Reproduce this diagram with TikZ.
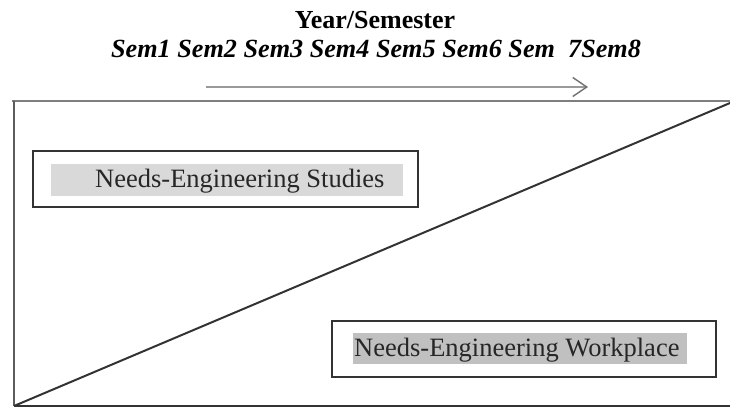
\documentclass[tikz,border=0pt]{standalone}
\usepackage{fontspec}
\setmainfont{Liberation Serif}
\usetikzlibrary{arrows.meta}
\definecolor{frameGray}{HTML}{7F7F7F}
\definecolor{darkLine}{HTML}{333333}
\definecolor{arrowGray}{HTML}{9A9A9A}
\definecolor{hlLight}{HTML}{D9D9D9}
\definecolor{hlDark}{HTML}{C0C0C0}
\tikzset{
  framebox/.style={draw=darkLine, line width=2pt, minimum width=#1, minimum height=56pt, inner sep=0pt},
  boxlabel/.style={font=\fontsize{26.5}{28}\selectfont, text=black!85, inner sep=0pt, anchor=west},
  frameline/.style={line width=2.4pt}
}
\begin{document}
\begin{tikzpicture}[x=1pt,y=1pt]
\useasboundingbox (0,0) rectangle (730,409);
% titles
\node[font=\bfseries\fontsize{26}{28}\selectfont, inner sep=0pt] (title) at (375,389) {Year/Semester};
\node[font=\bfseries\itshape\fontsize{26.2}{28}\selectfont, inner sep=0pt] (sems) at (376,360) {Sem1 Sem2 Sem3 Sem4 Sem5 Sem6 Sem\ \ 7Sem8};
% arrow
\coordinate (arrS) at (206,322);
\coordinate (arrE) at (588,322);
\draw[arrowGray, line width=2.2pt, -{Straight Barb[length=14pt,width=19pt,line width=1.4pt,color=darkLine!70]}] (arrS) -- (arrE);
% frame
\coordinate (tl) at (12,308);
\coordinate (tr) at (730,308);
\coordinate (bl) at (14,3);
\coordinate (br) at (730,3);
\coordinate (tlL) at (14,308);
\coordinate (diagE) at (730,306);
\draw[frameGray, frameline] (tl) -- (tr);
\draw[darkLine!80, frameline] (tlL) -- (bl);
\draw[darkLine, frameline] (bl) -- (br);
\draw[darkLine, line width=2pt] (bl) -- (diagE);
% studies box
\node[framebox=385pt, fill=white] (studies) at (225.5,229.5) {};
\node[fill=hlLight, minimum width=352pt, minimum height=32pt, inner sep=0pt] (studiesHl) at (227,229) {};
\node[boxlabel] (studiesText) at (95,228) {Needs-Engineering Studies};
% workplace box
\node[framebox=384pt, fill=white] (work) at (524,59.5) {};
\node[fill=hlDark, minimum width=334pt, minimum height=31pt, inner sep=0pt] (workHl) at (520,60.5) {};
\node[boxlabel] (workText) at (354,59) {Needs-Engineering Workplace};
\end{tikzpicture}
\end{document}
